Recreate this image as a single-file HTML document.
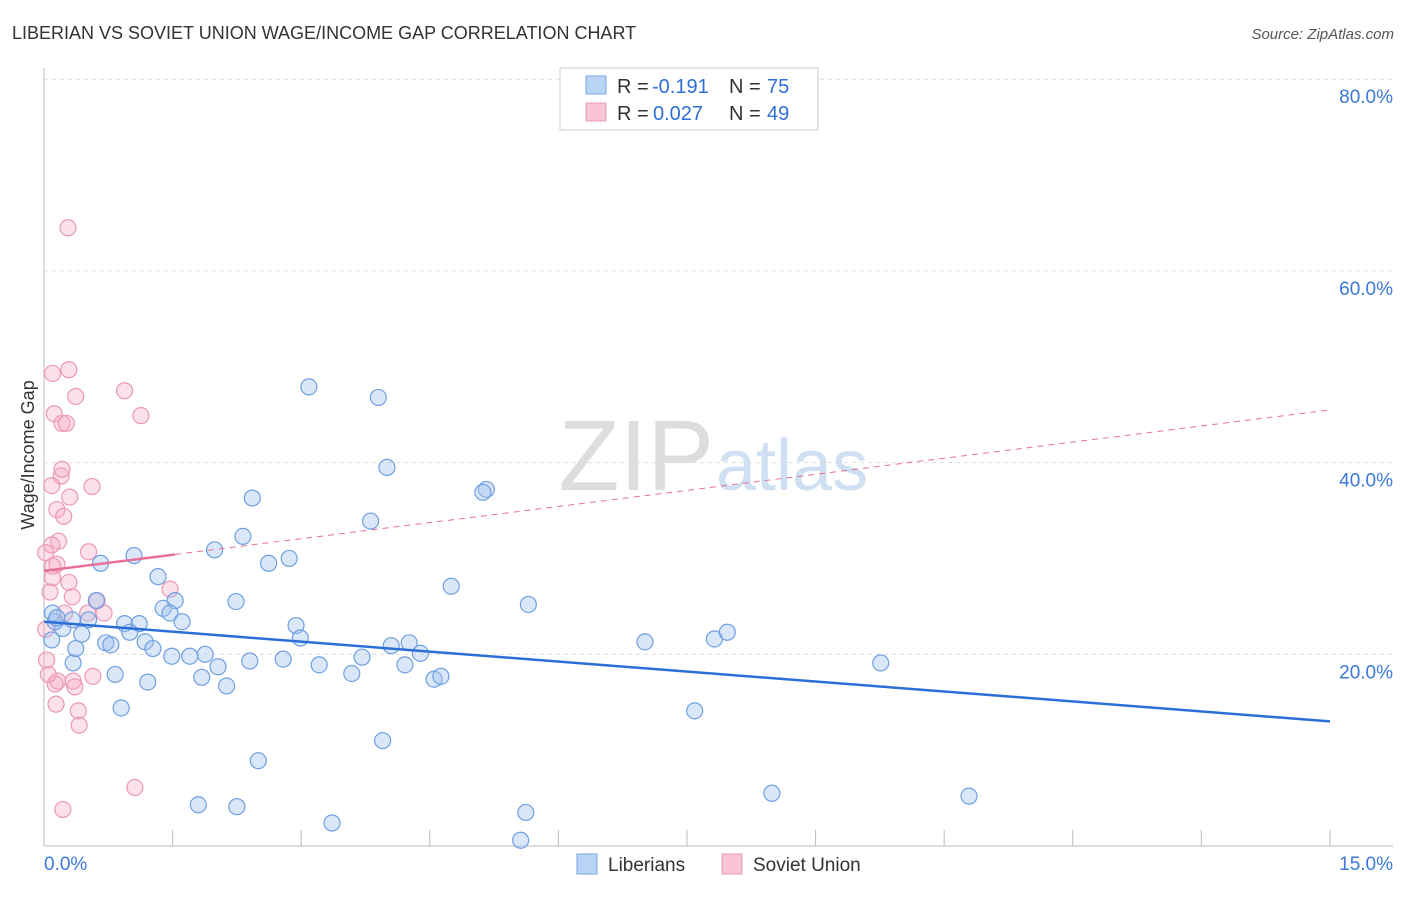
<!DOCTYPE html>
<html><head><meta charset="utf-8"><style>
body{margin:0;background:#fff;font-family:"Liberation Sans",sans-serif;}
svg text{font-family:"Liberation Sans",sans-serif;}
</style></head><body>
<svg id="c" width="1406" height="892" xmlns="http://www.w3.org/2000/svg">
<text x="12" y="39" font-size="18" fill="#333">LIBERIAN VS SOVIET UNION WAGE/INCOME GAP CORRELATION CHART</text>
<text x="1394" y="39" font-size="15" fill="#555" text-anchor="end" font-style="italic">Source: ZipAtlas.com</text>
<text x="714" y="490" font-size="100" fill="#ddd" text-anchor="end" font-family="Liberation Serif">ZIP</text>
<text x="716" y="490" font-size="72" fill="#cfe0f3">atlas</text>
<text x="34" y="455" font-size="18" fill="#333" text-anchor="middle" transform="rotate(-90 34 455)">Wage/Income Gap</text>
<g id="grid"></g><g id="marks"></g>
<g>
<rect x="560" y="68" width="258" height="62" fill="#fff" stroke="#ccc"/>
<rect x="586" y="76" width="20" height="18" fill="#b8d3f5" stroke="#7aa7e0"/>
<rect x="586" y="103" width="20" height="18" fill="#f9c5d6" stroke="#eb98b4"/>
<text y="93" font-size="20" fill="#333"><tspan x="617">R =</tspan><tspan x="652" fill="#2f6fd6">-0.191</tspan><tspan x="729">N =</tspan><tspan x="767" fill="#2f6fd6">75</tspan></text>
<text y="120" font-size="20" fill="#333"><tspan x="617">R =</tspan><tspan x="653" fill="#2f6fd6">0.027</tspan><tspan x="729">N =</tspan><tspan x="767" fill="#2f6fd6">49</tspan></text>
</g>
<g>
<rect x="577" y="854" width="20" height="20" fill="#b8d3f5" stroke="#7aa7e0"/>
<text x="608" y="871" font-size="19" fill="#333">Liberians</text>
<rect x="722" y="854" width="20" height="20" fill="#f9c5d6" stroke="#eb98b4"/>
<text x="753" y="871" font-size="19" fill="#333">Soviet Union</text>
</g>
</svg>
<script>
const yTicks=[20,40,60,80];
const xTickLabels=["0.0%","15.0%"];
const bluePx=[[309,387],[378,397],[387,467],[486,489],[483,492],[371,521],[252,498],[243,536],[215,550],[134,556],[101,563],[269,563],[289,558],[158,577],[451,586],[236,602],[96,601],[175,601],[163,608],[170,613],[182,622],[528,604],[125,624],[139,624],[130,632],[296,626],[300,638],[145,642],[153,649],[106,643],[111,645],[82,634],[89,620],[63,628],[55,622],[53,613],[57,618],[391,646],[409,643],[420,653],[405,665],[362,657],[352,673],[319,665],[283,659],[250,661],[218,667],[205,654],[190,656],[172,656],[202,677],[227,686],[148,682],[115,674],[73,663],[76,649],[434,679],[441,676],[645,642],[714,639],[727,632],[881,663],[695,711],[121,708],[383,741],[258,761],[772,793],[969,796],[198,805],[237,807],[526,812],[332,823],[521,840],[52,640],[72,620]];
const pinkPx=[[68,228],[125,391],[141,416],[69,370],[53,373],[76,396],[54,414],[62,423],[66,423],[92,487],[70,497],[61,476],[62,469],[52,486],[57,510],[64,516],[59,541],[52,545],[89,552],[57,564],[53,566],[53,578],[69,582],[170,589],[50,592],[72,597],[65,613],[97,601],[104,613],[46,629],[47,660],[58,681],[55,684],[73,681],[75,687],[93,676],[48,674],[56,704],[78,711],[79,725],[135,788],[63,810],[88,613],[46,553]];
const blueX=bluePx.map(p=>+((p[0]-44)/85.73).toFixed(2)), blueY=bluePx.map(p=>+((846-p[1])/9.585).toFixed(1));
const pinkX=pinkPx.map(p=>+((p[0]-44)/85.73).toFixed(2)), pinkY=pinkPx.map(p=>+((846-p[1])/9.585).toFixed(1));
const blueTrend=[23.4,13.0];
const pinkTrend=[28.7,45.5];
const pinkSolidEnd=1.53;

const X=v=>44+v*85.73, Y=v=>846-v*9.585;
const NS="http://www.w3.org/2000/svg";
function mk(t,a,parent){const e=document.createElementNS(NS,t);for(const k in a)e.setAttribute(k,a[k]);parent.appendChild(e);return e;}
const grid=document.getElementById('grid'), marks=document.getElementById('marks');
let ax=mk('line',{x1:44,y1:68,x2:44,y2:846,stroke:'#bbb'},grid);


let bx=mk('line',{x1:44,y1:846,x2:1393,y2:846,stroke:'#bbb'},grid);


for(let i=0;i<=10;i++){let t=mk('line',{x1:X(i*1.5),y1:830,x2:X(i*1.5),y2:846,stroke:'#bbb'},grid);

}
yTicks.forEach(v=>{let g=mk('line',{x1:44,y1:Y(v),x2:1393,y2:Y(v),stroke:'#ddd','stroke-dasharray':'4 4'},grid);


let t=mk('text',{x:1393,y:Y(v)+24,'font-size':19,fill:'#3b78d8','text-anchor':'end'},grid);t.textContent=v.toFixed(1)+'%';

});
let xl0=mk('text',{x:44,y:870,'font-size':19,fill:'#3b78d8'},grid);xl0.textContent=xTickLabels[0];


let xl1=mk('text',{x:1393,y:870,'font-size':19,fill:'#3b78d8','text-anchor':'end'},grid);xl1.textContent=xTickLabels[1];


pinkX.forEach((x,i)=>{let c=mk('circle',{cx:X(x),cy:Y(pinkY[i]),r:8,fill:'rgba(245,170,195,0.35)',stroke:'#eb98b4','stroke-width':1.2},marks);

});
blueX.forEach((x,i)=>{let c=mk('circle',{cx:X(x),cy:Y(blueY[i]),r:8,fill:'rgba(160,196,240,0.4)',stroke:'#6f9fe0','stroke-width':1.2},marks);

});
const py=x=>pinkTrend[0]+(pinkTrend[1]-pinkTrend[0])*x/15;
let pd=mk('line',{x1:X(pinkSolidEnd),y1:Y(py(pinkSolidEnd)),x2:X(15),y2:Y(pinkTrend[1]),stroke:'#e6709a','stroke-width':1,'stroke-dasharray':'6 5'},marks);


let ps=mk('line',{x1:X(0),y1:Y(pinkTrend[0]),x2:X(pinkSolidEnd),y2:Y(py(pinkSolidEnd)),stroke:'#e6709a','stroke-width':2.5},marks);


let bl=mk('line',{x1:X(0),y1:Y(blueTrend[0]),x2:X(15),y2:Y(blueTrend[1]),stroke:'#2a6fd6','stroke-width':2.5},marks);


</script>
</body></html>
